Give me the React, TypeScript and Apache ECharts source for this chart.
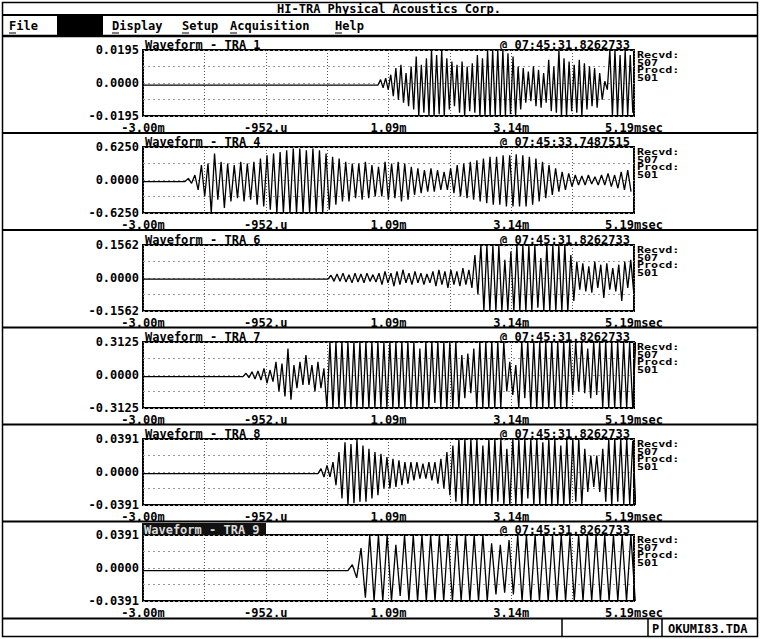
import React, { useEffect, useRef } from "react";
import * as echarts from "echarts";

// ---------- texts ----------
const appTitle = "HI-TRA Physical Acoustics Corp.";
const menuLabels = ["File", "Display", "Setup", "Acquisition", "Help"];
const channelNames = ["TRA 1", "TRA 4", "TRA 6", "TRA 7", "TRA 8", "TRA 9"];
const hitTimes = [
  "@ 07:45:31.8262733",
  "@ 07:45:33.7487515",
  "@ 07:45:31.8262733",
  "@ 07:45:31.8262733",
  "@ 07:45:31.8262733",
  "@ 07:45:31.8262733",
];
const recvdCounts = [507, 507, 507, 507, 507, 507];
const procdCounts = [501, 501, 501, 501, 501, 501];
const statusFlag = "P";
const fileName = "OKUMI83.TDA";

// ---------- axes ----------
const fullScales = [0.0195, 0.625, 0.1562, 0.3125, 0.0391, 0.0391];
const timeMin = -3.0;
const timeMax = 5.19;
const timeGridStep = 1.02375;

// ---------- waveforms: quiet level, onset (ms), peak spacing (ms), alternating peaks ----------
const tra1Baseline = -0.0012;
const tra1Onset = 0.92;
const tra1Step = 0.0425;
const tra1Peaks = [
  0.002, -0.0029, 0.0029, -0.0039,
  0.0049, -0.0078, 0.0088, -0.0098, 0.0107, -0.0117, 0.0059, -0.0137, 0.0098, -0.0156,
  0.0156, -0.0195, 0.0107, -0.0176, 0.0146, -0.0195, 0.0195, -0.0195, 0.0166, -0.0185,
  0.0195, -0.0195, 0.0146, -0.0156, 0.0127, -0.0137, 0.0107, -0.0176, 0.0127, -0.0195,
  0.0098, -0.0166, 0.0117, -0.0176, 0.0166, -0.0195, 0.0146, -0.0195, 0.0195, -0.0195,
  0.0195, -0.0195, 0.0195, -0.0195, 0.0195, -0.0195, 0.0176, -0.0185, 0.0156, -0.0195,
  0.0098, -0.0156, 0.0088, -0.0117, 0.0068, -0.0107, 0.0098, -0.0137, 0.0078, -0.0146,
  0.0059, -0.0117, 0.0137, -0.0166, 0.0098, -0.0176, 0.0195, -0.0195, 0.0146, -0.0195,
  0.0127, -0.0166, 0.0107, -0.0176, 0.0137, -0.0195, 0.0117, -0.0156, 0.0098, -0.0137,
  0.0088, -0.0146, 0.0059, -0.0098, 0.001, -0.0039, 0.0195, -0.0195, 0.0195, -0.0195,
  0.0166, -0.0195, 0.0195, -0.0195, 0.0166, -0.0176,
];

const tra4Baseline = -0.03;
const tra4Onset = -2.299;
const tra4Step = 0.0547;
const tra4Peaks = [
  0.031, -0.063, 0.094, -0.188,
  0.281, -0.313, 0.313, -0.625, 0.5, -0.375, 0.344, -0.531, 0.313, -0.406,
  0.281, -0.344, 0.344, -0.406, 0.313, -0.375, 0.344, -0.469, 0.406, -0.5,
  0.469, -0.563, 0.5, -0.625, 0.531, -0.625, 0.563, -0.625, 0.594, -0.625,
  0.594, -0.625, 0.563, -0.625, 0.594, -0.625, 0.563, -0.625, 0.5, -0.563,
  0.438, -0.469, 0.406, -0.406, 0.344, -0.406, 0.313, -0.344, 0.313, -0.375,
  0.344, -0.344, 0.281, -0.313, 0.25, -0.313, 0.344, -0.375, 0.313, -0.344,
  0.344, -0.406, 0.313, -0.375, 0.25, -0.281, 0.219, -0.25, 0.188, -0.219,
  0.219, -0.219, 0.188, -0.188, 0.156, -0.188, 0.219, -0.25, 0.281, -0.313,
  0.313, -0.344, 0.344, -0.375, 0.375, -0.406, 0.406, -0.438, 0.438, -0.469,
  0.438, -0.469, 0.469, -0.5, 0.469, -0.5, 0.488, -0.5, 0.469, -0.5,
  0.438, -0.469, 0.406, -0.406, 0.344, -0.344, 0.281, -0.281, 0.219, -0.219,
  0.156, -0.188, 0.125, -0.125, 0.094, -0.094, 0.075, -0.094, 0.094, -0.075,
  0.063, -0.094, 0.094, -0.094, 0.125, -0.125, 0.094, -0.156, 0.156, -0.188,
  0.188, -0.219,
];

const tra6Baseline = -0.005;
const tra6Onset = 0.086;
const tra6Step = 0.05;
const tra6Peaks = [
  0.013, -0.016, 0.019, -0.016, 0.023, -0.019, 0.016, -0.023, 0.023, -0.019,
  0.019, -0.023, 0.023, -0.016, 0.016, -0.019, 0.023, -0.031, 0.031, -0.023,
  0.023, -0.039, 0.031, -0.031, 0.039, -0.023, 0.023, -0.031, 0.031, -0.023,
  0.023, -0.031, 0.019, -0.023, 0.031, -0.039, 0.039, -0.031, 0.031, -0.047,
  0.039, -0.031, 0.031, -0.039, 0.047, -0.031, 0.039, -0.047, 0.109, -0.078,
  0.156, -0.156, 0.156, -0.156, 0.156, -0.156, 0.156, -0.156, 0.086, -0.156,
  0.125, -0.156, 0.156, -0.156, 0.156, -0.156, 0.156, -0.156, 0.156, -0.141,
  0.094, -0.156, 0.156, -0.156, 0.156, -0.156, 0.156, -0.156, 0.156, -0.156,
  0.109, -0.109, 0.078, -0.055, 0.07, -0.063, 0.055, -0.07, 0.078, -0.047,
  0.063, -0.094, 0.07, -0.055, 0.047, -0.063, 0.063, -0.109, 0.078, -0.047,
  0.086, -0.07,
];

const tra7Baseline = -0.015;
const tra7Onset = -1.332;
const tra7Step = 0.05;
const tra7Peaks = [
  0.016, -0.025, 0.031, -0.038, 0.038, -0.047, 0.063, -0.078, 0.047, -0.063,
  0.125, -0.156, 0.109, -0.203, 0.25, -0.234, 0.094, -0.125, 0.125, -0.094,
  0.188, -0.094, 0.094, -0.156, 0.125, -0.125, 0.063,
  -0.3125, 0.3125, -0.3125, 0.3125, -0.3125, 0.3125, -0.3125, 0.3125, -0.3125, 0.3125,
  -0.3125, 0.3125, -0.3125, 0.3125, -0.3125, 0.3125, -0.3125, 0.3125, -0.3125, 0.3125,
  -0.3125, 0.3125, -0.3125, 0.3125, -0.3125, 0.3125, -0.3125, 0.3125, -0.3125, 0.3125,
  -0.3125, 0.25, -0.3125, 0.3125, -0.3125, 0.3125, -0.266, 0.3125, -0.3125, 0.3125,
  -0.3125, 0.3125, -0.3125, 0.3125, -0.3125,
  0.188, -0.219, 0.203, -0.172, 0.25,
  -0.3125, 0.3125, -0.3125, 0.3125, -0.3125, 0.3125, -0.3125, 0.3125, -0.3125, 0.3125,
  -0.156, 0.125, -0.188, 0.094,
  -0.3125, 0.3125, -0.219, 0.3125, -0.3125, 0.3125, -0.3125, 0.3125, -0.3125, 0.3125,
  -0.3125, 0.3125, -0.3125, 0.3125, -0.3125, 0.3125, -0.3125,
  0.3125, -0.188, 0.3125, -0.156, 0.3125, -0.172, 0.25, -0.219, 0.3125, -0.188, 0.3125,
  -0.3125, 0.3125, -0.3125, 0.3125, -0.3125, 0.3125, -0.3125, 0.3125, -0.3125, 0.3125,
  -0.3125, 0.3125,
];

const tra8Baseline = -0.002;
const tra8Onset = -0.081;
const tra8Step = 0.05;
const tra8Peaks = [
  0.0039, -0.0059, 0.0078, -0.0059, 0.0117, -0.0156,
  0.0235, -0.0313, 0.0352, -0.0391, 0.0332, -0.0371, 0.0391, -0.0352, 0.0313, -0.0352,
  0.0274, -0.0313, 0.0235, -0.0274, 0.0215,
  -0.0196, 0.0176, -0.0196, 0.0156, -0.0176, 0.0137, -0.0156, 0.0117, -0.0137, 0.0117,
  -0.0098, 0.0117,
  -0.0078, 0.0098, -0.0078, 0.0117, -0.0098, 0.0117, -0.0137, 0.0156,
  -0.0196, 0.0235, -0.0274, 0.0313, -0.0352, 0.0391, -0.0391,
  0.0391, -0.0391, 0.0391, -0.0391, 0.0391, -0.0391, 0.0313, -0.0391, 0.0391, -0.0391,
  0.0391, -0.0352, 0.0391, -0.0391, 0.0274, -0.0391, 0.0391, -0.0391, 0.0391, -0.0391,
  0.0391, -0.0313, 0.0391, -0.0391, 0.0391, -0.0391, 0.0352, -0.0391, 0.0391, -0.0391,
  0.0391, -0.0391, 0.0313, -0.0391, 0.0391, -0.0391, 0.0391, -0.0352, 0.0391, -0.0391,
  0.0274, -0.0235, 0.0196, -0.0176, 0.0196, -0.0235, 0.0274,
  -0.0352, 0.0391, -0.0391, 0.0391, -0.0352, 0.0391, -0.0391, 0.0391, -0.0391, 0.0371,
  -0.0391,
];

const tra9Baseline = -0.003;
const tra9Onset = 0.419;
const tra9Step = 0.0726;
const tra9Peaks = [
  0.0039, -0.0117, 0.0235, -0.0352, 0.0391, -0.0391, 0.0391, -0.0391, 0.0391, -0.0391,
  0.0274, -0.0332,
  0.0391, -0.0391, 0.0391, -0.0391, 0.0391, -0.0391, 0.0391, -0.0391, 0.0391, -0.0391,
  0.0391, -0.0391, 0.0391, -0.0391, 0.0391, -0.0391, 0.0391, -0.0391, 0.0391, -0.0391,
  0.0293, -0.0313, 0.0274, -0.0293, 0.0332, -0.0313,
  0.0391, -0.0391, 0.0391, -0.0391, 0.0391, -0.0391, 0.0391, -0.0391, 0.0391, -0.0391,
  0.0391, -0.0391, 0.0391, -0.0391, 0.0391, -0.0391, 0.0391, -0.0391, 0.0391, -0.0391,
  0.0391, -0.0391, 0.0391, -0.0391, 0.0391, -0.0391, 0.0391, -0.0391,
];

const waves = [
  { base: tra1Baseline, onset: tra1Onset, step: tra1Step, peaks: tra1Peaks },
  { base: tra4Baseline, onset: tra4Onset, step: tra4Step, peaks: tra4Peaks },
  { base: tra6Baseline, onset: tra6Onset, step: tra6Step, peaks: tra6Peaks },
  { base: tra7Baseline, onset: tra7Onset, step: tra7Step, peaks: tra7Peaks },
  { base: tra8Baseline, onset: tra8Onset, step: tra8Step, peaks: tra8Peaks },
  { base: tra9Baseline, onset: tra9Onset, step: tra9Step, peaks: tra9Peaks },
];

// ---------- layout ----------
const FONT = '"DejaVu Sans Mono", "Liberation Mono", monospace';
const BOLD12 = `bold 12px ${FONT}`;
const boxTops = [50, 147, 245, 342, 439, 535];
const BOX_LEFT = 143;
const BOX_W = 491;
const BOX_H = 66;
const separators = [133, 230, 327.5, 424.5, 521.5];
const menuX = [9, 112, 182, 230, 335];

function buildWave(w: { base: number; onset: number; step: number; peaks: number[] }) {
  const pts: number[][] = [
    [timeMin, w.base],
    [w.onset, w.base],
  ];
  w.peaks.forEach((v, i) => pts.push([+(w.onset + (i + 1) * w.step).toFixed(4), v]));
  return pts;
}

function timeLabel(v: number) {
  const k = Math.round((v - timeMin) / timeGridStep);
  if (k % 2 !== 0) return "";
  const a = Math.abs(v) + 1e-6;
  const sgn = v < 0 ? "-" : "";
  if (a < 1) return sgn + Math.floor(a * 1000) + ".u";
  const s = sgn + (Math.floor(a * 100) / 100).toFixed(2);
  return k === 8 ? s + "msec" : s + "m";
}

function line(x1: number, y1: number, x2: number, y2: number, w = 2) {
  return { type: "line", shape: { x1, y1, x2, y2 }, style: { stroke: "#000", lineWidth: w }, silent: true };
}
function text(x: number, y: number, t: string, extra: any = {}) {
  return {
    type: "text",
    x,
    y,
    silent: true,
    style: { text: t, font: BOLD12, fill: "#000", textAlign: "left", textVerticalAlign: "middle", ...extra },
  };
}

export default function App() {
  const ref = useRef<HTMLDivElement>(null);
  useEffect(() => {
    if (!ref.current) return;
    const chart = echarts.init(ref.current, null, { renderer: "svg" });

    const grids: any[] = [];
    const xAxes: any[] = [];
    const yAxes: any[] = [];
    const series: any[] = [];
    const graphic: any[] = [];

    // frame, title bar, menu
    graphic.push({
      type: "rect",
      shape: { x: 2.5, y: 2.5, width: 755, height: 634 },
      style: { fill: "none", stroke: "#000", lineWidth: 1.5 },
      silent: true,
    });
    graphic.push(line(2, 15, 757, 15, 2));
    graphic.push(text(389, 9, appTitle, { textAlign: "center" }));
    graphic.push({ type: "rect", shape: { x: 57, y: 16, width: 46, height: 20 }, style: { fill: "#000" }, silent: true });
    menuLabels.forEach((m, i) => {
      graphic.push(text(menuX[i], 26, m));
      graphic.push(line(menuX[i], 33, menuX[i] + 7, 33, 1));
    });
    graphic.push(line(2, 36, 757, 36, 2.5));
    separators.forEach((y) => graphic.push(line(2, y, 757, y, 2)));
    // status bar
    graphic.push(line(2, 618.5, 757, 618.5, 2));
    [562, 648, 662].forEach((x) => graphic.push(line(x, 618, x, 637, 1.5)));
    graphic.push(text(652, 628.5, statusFlag));
    graphic.push(text(668, 628.5, fileName));

    fullScales.forEach((s, i) => {
      const top = boxTops[i];
      grids.push({
        left: BOX_LEFT,
        top,
        width: BOX_W,
        height: BOX_H,
        show: true,
        borderColor: "#000",
        borderWidth: 2,
        backgroundColor: "#fff",
      });
      xAxes.push({
        type: "value",
        gridIndex: i,
        min: timeMin,
        max: timeMax,
        interval: timeGridStep,
        axisLine: { show: false },
        axisTick: { show: false },
        splitLine: { show: true, lineStyle: { type: [1, 2], color: "#555", width: 1 } },
        axisLabel: {
          formatter: timeLabel,
          margin: 6,
          color: "#000",
          fontFamily: FONT,
          fontWeight: "bold",
          fontSize: 12,
          lineHeight: 12,
          hideOverlap: false,
        },
      });
      yAxes.push({
        type: "value",
        gridIndex: i,
        min: -s,
        max: s,
        interval: s / 2,
        axisLine: { show: false },
        axisTick: { show: false },
        splitLine: { show: true, lineStyle: { type: [2, 3], color: "#999", width: 1 } },
        axisLabel: {
          formatter: (v: number) =>
            Math.abs(v) < 1e-12 ? "0.0000" : Math.abs(Math.abs(v) - s) < 1e-9 ? v.toFixed(4) : "",
          margin: 4,
          color: "#000",
          fontFamily: FONT,
          fontWeight: "bold",
          fontSize: 12,
          lineHeight: 11,
        },
      });
      series.push({
        type: "line",
        xAxisIndex: i,
        yAxisIndex: i,
        data: buildWave(waves[i]),
        symbol: "none",
        showSymbol: false,
        clip: true,
        lineStyle: { color: "#000", width: 1.3 },
        z: 3,
      });

      const titleText = "Waveform - " + channelNames[i];
      const ty = top - 5;
      if (i === 5) {
        graphic.push({ type: "rect", shape: { x: 142, y: top - 12, width: 124, height: 12 }, style: { fill: "#111" }, silent: true });
        graphic.push(text(144, ty, titleText, { fill: "#ddd" }));
      } else {
        graphic.push(text(145, ty, titleText));
      }
      graphic.push(text(630, ty, hitTimes[i], { textAlign: "right" }));
      graphic.push({
        type: "text",
        x: 637,
        y: top + 1,
        scaleX: 1.38,
        silent: true,
        style: {
          text: `Recvd:\n${recvdCounts[i]}\nProcd:\n${procdCounts[i]}`,
          font: `bold 8.5px ${FONT}`,
          lineHeight: 7.6,
          fill: "#000",
          textAlign: "left",
          textVerticalAlign: "top",
        },
      });
    });

    chart.setOption({
      animation: false,
      backgroundColor: "#fff",
      grid: grids,
      xAxis: xAxes,
      yAxis: yAxes,
      series,
      graphic: { elements: graphic },
    });
    return () => chart.dispose();
  }, []);

  return (
    <div
      ref={ref}
      style={{ position: "absolute", left: 0, top: 0, width: 760, height: 639, background: "#fff" }}
    />
  );
}
